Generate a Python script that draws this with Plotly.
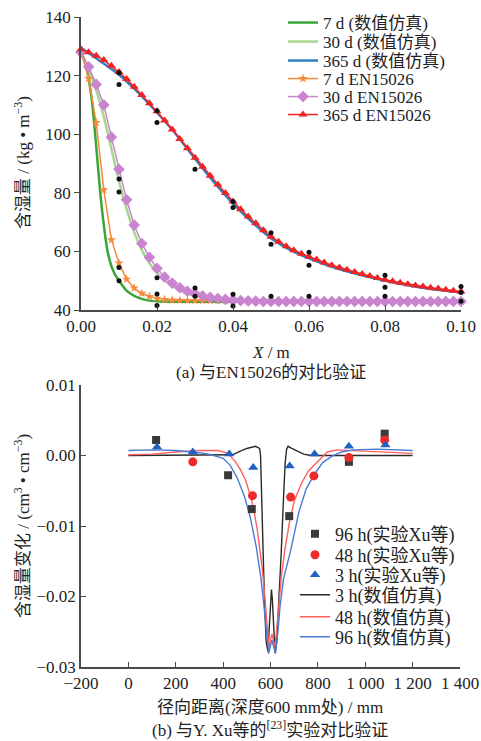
import plotly.graph_objects as go

# ======================= (a) data =======================
x_en = [0.000, 0.002, 0.004, 0.006, 0.008, 0.010, 0.012, 0.014, 0.016, 0.018,
        0.020, 0.022, 0.024, 0.026, 0.028, 0.030, 0.032, 0.034, 0.036, 0.038,
        0.040, 0.042, 0.044, 0.046, 0.048, 0.050, 0.052, 0.054, 0.056, 0.058,
        0.060, 0.062, 0.064, 0.066, 0.068, 0.070, 0.072, 0.074, 0.076, 0.078,
        0.080, 0.082, 0.084, 0.086, 0.088, 0.090, 0.092, 0.094, 0.096, 0.098,
        0.100]

en_7d = [128, 119, 104, 81, 64, 56, 50.5, 47.5, 45.7, 44.6,
         44.0, 43.6, 43.4, 43.3, 43.2, 43.2, 43.2, 43.2, 43.2, 43.2,
         43.2, 43.2, 43.2, 43.2, 43.2, 43.2, 43.2, 43.2, 43.2, 43.2,
         43.2, 43.2, 43.2, 43.2, 43.2, 43.2, 43.2, 43.2, 43.2, 43.2,
         43.2, 43.2, 43.2, 43.2, 43.2, 43.2, 43.2, 43.2, 43.2, 43.2,
         43.2]

en_30d = [128, 123, 117, 110, 99, 88, 77.6, 69, 62.7, 58,
          54.2, 51.2, 49.2, 47.6, 46.4, 45.6, 44.8, 44.3, 43.9, 43.6,
          43.4, 43.2, 43.1, 43.0, 42.9, 42.9, 42.9, 42.9, 42.9, 42.9,
          42.9, 42.9, 42.9, 42.9, 42.9, 42.9, 42.9, 42.9, 42.9, 42.9,
          42.9, 42.9, 42.9, 42.9, 42.9, 42.9, 42.9, 42.9, 42.9, 42.9,
          42.9]

en_365d = [129, 128, 126.8, 125.3, 123.4, 121.2, 118.8, 116.2, 113.4, 110.6,
           107.8, 104.7, 101.6, 98.4, 95.2, 92.0, 88.9, 85.8, 82.8, 79.9,
           77.0, 74.4, 71.9, 69.6, 67.2, 65.0, 63.3, 61.8, 60.4, 59.2,
           58.2, 57.2, 56.2, 55.3, 54.5, 53.7, 53.0, 52.3, 51.6, 50.9,
           50.3, 49.8, 49.3, 48.8, 48.4, 48.0, 47.6, 47.3, 46.9, 46.6,
           46.3]

x_sim7 = [0.000, 0.001, 0.002, 0.003, 0.004, 0.005, 0.006, 0.007, 0.008, 0.009,
          0.010, 0.012, 0.014, 0.016, 0.018, 0.020, 0.025, 0.030, 0.040, 0.060,
          0.080, 0.100]
sim_7d = [128, 125, 119, 110, 96, 81, 69, 60, 55, 52,
          50, 46.6, 44.8, 43.8, 43.2, 43.0, 42.8, 42.8, 42.8, 42.8,
          42.8, 42.8]

x_sim30 = [0.000, 0.002, 0.004, 0.006, 0.008, 0.010, 0.012, 0.014, 0.016, 0.018,
           0.020, 0.022, 0.024, 0.026, 0.028, 0.030, 0.034, 0.038, 0.045, 0.060,
           0.080, 0.100]
sim_30d = [128, 122, 115, 106, 95, 84, 74.5, 66.5, 60.5, 56,
           52.7, 50.2, 48.3, 46.8, 45.6, 44.8, 43.8, 43.2, 42.9, 42.8,
           42.8, 42.8]

x_sim365 = [0.000, 0.005, 0.010, 0.015, 0.020, 0.025, 0.030, 0.035, 0.040, 0.045,
            0.050, 0.055, 0.060, 0.065, 0.070, 0.075, 0.080, 0.085, 0.090, 0.095,
            0.100]
sim_365d = [129.5, 125, 120.3, 114.3, 107.4, 100, 91.6, 83.6, 76.3, 70,
            64.5, 60.5, 57.6, 55.2, 53.2, 51.5, 50, 48.7, 47.6, 46.7,
            46]

meas_x = [0.01, 0.01, 0.01, 0.01, 0.01, 0.01,
          0.02, 0.02, 0.02, 0.02, 0.02,
          0.03, 0.03, 0.03,
          0.04, 0.04, 0.04, 0.04,
          0.05, 0.05, 0.05,
          0.06, 0.06, 0.06,
          0.08, 0.08, 0.08,
          0.10, 0.10, 0.10]
meas_y = [121, 117, 84.7, 80.3, 54.5, 50,
          108, 104, 51, 45.5, 41.5,
          88, 47.5, 44.7,
          77, 75, 45.4, 41.4,
          66.4, 62.4, 44.7,
          59.7, 55.3, 44.7,
          51.9, 47.8, 44.7,
          48, 46, 43]

# ======================= (b) data =======================
exp96_x = [117, 421, 521, 679, 931, 1082]
exp96_y = [0.0022, -0.0028, -0.0076, -0.0086, -0.0009, 0.0031]
exp48_x = [272, 524, 685, 783, 931, 1082]
exp48_y = [-0.0009, -0.0057, -0.0059, -0.0029, -0.0003, 0.0022]
exp3_x = [121, 272, 426, 527, 681, 786, 931, 1085]
exp3_y = [0.0012, 0.0005, 0.0002, -0.0017, -0.0015, 0.0002, 0.0013, 0.0015]

sim3_x = [0, 100, 200, 300, 400, 440, 470, 500, 537, 554,
          558, 562, 566, 570, 576, 582, 589, 595, 600, 604,
          608, 613, 619, 626, 634, 645, 655, 662, 668, 674,
          690, 713, 740, 770, 800, 900, 1000, 1100, 1200]
sim3_y = [0.0, 0.0, 0.0, 0.0, 0.0, 0.0001, 0.0006, 0.0010, 0.0013, 0.0010,
          0.0, -0.004, -0.009, -0.015, -0.022, -0.0265, -0.0278, -0.024, -0.0205, -0.019,
          -0.0205, -0.024, -0.0280, -0.0265, -0.022, -0.014, -0.006, -0.001, 0.0009, 0.0013,
          0.0010, 0.0006, 0.0002, 0.0, 0.0, 0.0, 0.0, 0.0, 0.0]

sim48_x = [0, 100, 200, 300, 380, 410, 431, 450, 473, 495,
           516, 530, 544, 555, 565, 572, 579, 585, 590, 594,
           600, 606, 612, 618, 624, 632, 645, 660, 680, 700,
           730, 760, 783, 810, 840, 880, 1000, 1100, 1200]
sim48_y = [0.0001, 0.0002, 0.0005, 0.0007, 0.0007, 0.0004, -0.0001, -0.0008, -0.0020, -0.0035,
           -0.0058, -0.0078, -0.0105, -0.0130, -0.0160, -0.0185, -0.0213, -0.0245, -0.0268, -0.0274,
           -0.0262, -0.0253, -0.0262, -0.0274, -0.0255, -0.0220, -0.0175, -0.0135, -0.0095, -0.0065,
           -0.0040, -0.0022, -0.0014, -0.0005, 0.0005, 0.0008, 0.0006, 0.0004, 0.0003]

sim96_x = [0, 100, 200, 300, 350, 400, 430, 460, 490, 515,
           540, 560, 575, 585, 592, 598, 606, 614, 621, 630,
           640, 655, 685, 720, 750, 783, 820, 860, 900, 950,
           1050, 1200]
sim96_y = [0.0007, 0.0008, 0.0007, 0.0004, 0.0001, -0.0004, -0.0014, -0.0032, -0.0058, -0.0088,
           -0.0130, -0.0175, -0.0222, -0.0262, -0.0281, -0.0272, -0.0262, -0.0272, -0.0281, -0.0255,
           -0.0215, -0.0175, -0.0135, -0.0080, -0.0048, -0.0028, -0.0010, -0.0001, 0.0005, 0.0008,
           0.0009, 0.0007]

xticks_b = [-200, 0, 200, 400, 600, 800, 1000, 1200, 1400]
xticktext_b = ["−200", "0", "200", "400", "600", "800", "1 000", "1 200", "1 400"]
yticks_b = [0.01, 0.0, -0.01, -0.02, -0.03]
yticktext_b = ["0.01", "0.00", "−0.01", "−0.02", "−0.03"]

# ======================= figure =======================
FONT = "Liberation Serif, 'Noto Sans CJK SC', serif"
W, H = 481, 741


def fx(px):
    return px / W


def fy(py):
    return 1 - py / H


fig = go.Figure()

# (a) simulation lines
fig.add_trace(go.Scatter(x=x_sim7, y=sim_7d, mode="lines", name="7 d (数值仿真)",
                         line=dict(color="#3aa53a", width=2.5, shape="spline", smoothing=0.6),
                         xaxis="x", yaxis="y", legend="legend"))
fig.add_trace(go.Scatter(x=x_sim30, y=sim_30d, mode="lines", name="30 d (数值仿真)",
                         line=dict(color="#a6d88c", width=2.5, shape="spline", smoothing=0.6),
                         xaxis="x", yaxis="y", legend="legend2"))
fig.add_trace(go.Scatter(x=x_sim365, y=sim_365d, mode="lines", name="365 d (数值仿真)",
                         line=dict(color="#2f7fc1", width=2.5, shape="spline", smoothing=0.6),
                         xaxis="x", yaxis="y", legend="legend3"))
# (a) EN15026 lines+markers
fig.add_trace(go.Scatter(x=x_en, y=en_7d, mode="lines+markers", name="7 d EN15026",
                         line=dict(color="#f58a3c", width=1.5),
                         marker=dict(symbol="star", size=7, color="#f58a3c"),
                         cliponaxis=False, xaxis="x", yaxis="y", legend="legend4"))
fig.add_trace(go.Scatter(x=x_en, y=en_30d, mode="lines+markers", name="30 d EN15026",
                         line=dict(color="#c983cf", width=1.5),
                         marker=dict(symbol="diamond", size=9, color="#c983cf"),
                         cliponaxis=False, xaxis="x", yaxis="y", legend="legend5"))
fig.add_trace(go.Scatter(x=x_en, y=en_365d, mode="lines+markers", name="365 d EN15026",
                         line=dict(color="#f02222", width=1.5),
                         marker=dict(symbol="triangle-up", size=8, color="#f02222"),
                         cliponaxis=False, xaxis="x", yaxis="y", legend="legend6"))
fig.add_trace(go.Scatter(x=meas_x, y=meas_y, mode="markers", showlegend=False,
                         marker=dict(symbol="circle", size=5, color="#111111"),
                         cliponaxis=False, xaxis="x", yaxis="y"))

# (b) simulation lines
fig.add_trace(go.Scatter(x=sim3_x, y=sim3_y, mode="lines", name="3 h(数值仿真)",
                         line=dict(color="#2a2a2a", width=1.4),
                         xaxis="x2", yaxis="y2", legend="legend10"))
fig.add_trace(go.Scatter(x=sim48_x, y=sim48_y, mode="lines", name="48 h(数值仿真)",
                         line=dict(color="#ff5f5f", width=1.4),
                         xaxis="x2", yaxis="y2", legend="legend11"))
fig.add_trace(go.Scatter(x=sim96_x, y=sim96_y, mode="lines", name="96 h(数值仿真)",
                         line=dict(color="#4a7ad6", width=1.4),
                         xaxis="x2", yaxis="y2", legend="legend12"))
# (b) experiments
fig.add_trace(go.Scatter(x=exp96_x, y=exp96_y, mode="markers", name="96 h(实验Xu等)",
                         marker=dict(symbol="square", size=8, color="#3a3a3a"),
                         xaxis="x2", yaxis="y2", legend="legend7"))
fig.add_trace(go.Scatter(x=exp48_x, y=exp48_y, mode="markers", name="48 h(实验Xu等)",
                         marker=dict(symbol="circle", size=9, color="#ee2b2b"),
                         xaxis="x2", yaxis="y2", legend="legend8"))
fig.add_trace(go.Scatter(x=exp3_x, y=exp3_y, mode="markers", name="3 h(实验Xu等)",
                         marker=dict(symbol="triangle-up", size=9, color="#1f62c4"),
                         xaxis="x2", yaxis="y2", legend="legend9"))

axis_common = dict(showline=True, linecolor="#4a4a4a", linewidth=1.5, showgrid=False,
                   zeroline=False, ticklen=5, tickwidth=1.3, tickcolor="#4a4a4a",
                   automargin=False, ticklabeloverflow="allow",
                   tickfont=dict(family=FONT, size=17, color="#222"))

layout = dict(
    width=W, height=H, margin=dict(l=0, r=0, t=0, b=0, autoexpand=False),
    paper_bgcolor="white", plot_bgcolor="white",
    font=dict(family=FONT, size=17, color="#222"),
    xaxis=dict(domain=[fx(81), fx(461)], anchor="y", range=[0, 0.1],
               tickvals=[0, 0.02, 0.04, 0.06, 0.08, 0.1], tickformat=".2f",
               ticks="inside", **axis_common),
    yaxis=dict(domain=[fy(310), fy(17)], anchor="x", range=[40, 140],
               tickvals=[40, 60, 80, 100, 120, 140], ticks="outside", **axis_common),
    xaxis2=dict(domain=[fx(81), fx(460)], anchor="y2", range=[-200, 1400],
                tickvals=xticks_b, ticktext=xticktext_b, ticks="inside", **axis_common),
    yaxis2=dict(domain=[fy(667), fy(385)], anchor="x2", range=[-0.03, 0.01],
                tickvals=yticks_b, ticktext=yticktext_b, ticks="inside", **axis_common),
)

rows_a = [23, 42, 61, 79, 97, 115]
rows_b = [534, 555, 575, 595, 617, 637]
names = ["legend", "legend2", "legend3", "legend4", "legend5", "legend6",
         "legend7", "legend8", "legend9", "legend10", "legend11", "legend12"]
for i, nm in enumerate(names):
    if i < 6:
        xl, yl, fs = fx(283), fy(rows_a[i]), 17
    else:
        xl, yl, fs = fx(295), fy(rows_b[i - 6]), 18
    layout[nm] = dict(x=xl, y=yl, xanchor="left", yanchor="middle",
                      bgcolor="rgba(0,0,0,0)", borderwidth=0,
                      font=dict(family=FONT, size=fs, color="#222"),
                      itemwidth=30, tracegroupgap=0)

fig.update_layout(**layout)

ann = [
    dict(x=fx(22), y=fy(163), text="含湿量 / (kg • m<sup>−3</sup>)", textangle=-90),
    dict(x=fx(271), y=fy(352), text="<i>X</i> / m"),
    dict(x=fx(271), y=fy(372), text="(a) 与EN15026的对比验证"),
    dict(x=fx(22), y=fy(526), text="含湿量变化 / (cm<sup>3</sup> • cm<sup>−3</sup>)", textangle=-90),
    dict(x=fx(270), y=fy(707), text="径向距离(深度600 mm处) / mm"),
    dict(x=fx(270), y=fy(729), text="(b) 与Y. Xu等的<sup>[23]</sup>实验对比验证"),
]
for a in ann:
    fig.add_annotation(xref="paper", yref="paper", xanchor="center", yanchor="middle",
                       showarrow=False, font=dict(family=FONT, size=17, color="#222"), **a)

# remove the browser's default 8px page margin so the 481x741 figure fills the window
fig.write_html("out.html",
               config={"displayModeBar": False},
               post_script="document.body.style.margin='0';document.body.style.overflow='hidden';")
